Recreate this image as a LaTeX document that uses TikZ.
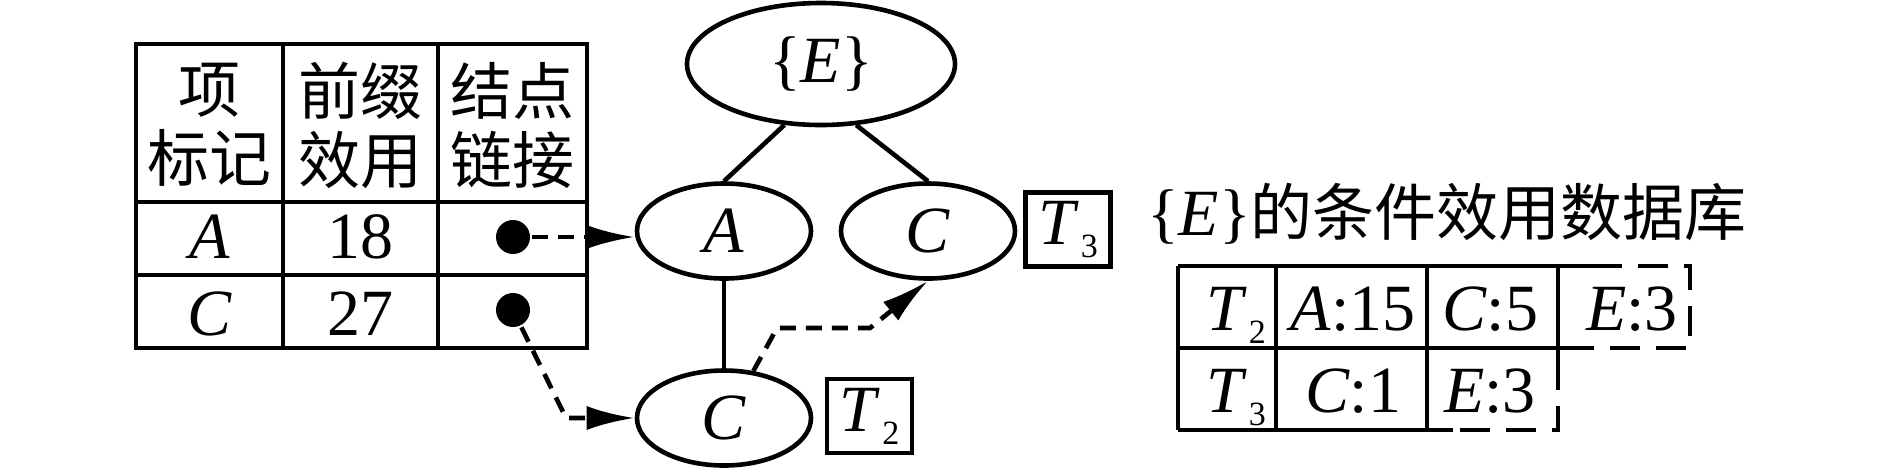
\documentclass[tikz,border=0pt]{standalone}
\usepackage{fontspec}
\setmainfont{Liberation Serif}
\newfontfamily\cjk{Noto Sans CJK SC}
\usetikzlibrary{arrows.meta,shapes.geometric}
\newcommand{\Tsub}[1]{\textit{T}\kern0.03em\raisebox{-0.2em}{\fontsize{17}{17}\selectfont #1}}
\begin{document}
\begin{tikzpicture}[x=0.5pt,y=-0.5pt,
  line width=2.3pt,
  lat/.style={font=\fontsize{33}{36}\selectfont, inner sep=0pt, anchor=base},
  hz/.style={font=\cjk\fontsize{31}{34.5}\selectfont, align=center, inner sep=0pt},
  ell/.style={draw, ellipse, minimum width=87pt, minimum height=47.5pt, inner sep=0pt, font=\fontsize{33}{36}\selectfont},
  tbox/.style={draw, minimum width=42.5pt, minimum height=37pt, inner sep=0pt, font=\fontsize{33}{36}\selectfont},
  dot/.style={circle, fill, minimum size=17pt, inner sep=0pt},
  dsh/.style={dash pattern=on 8pt off 5pt},
  tdsh/.style={dash pattern=on 15pt off 8pt},
  arr/.style={-{Latex[length=24pt,width=12pt]}},
]
\useasboundingbox (0,0) rectangle (1889,468);

% left table
\draw (136,44) rectangle (587,348);
\draw (283,44) -- (283,348);
\draw (438,44) -- (438,348);
\draw (136,202) -- (587,202);
\draw (136,275) -- (587,275);
\node[hz] (h1) at (209.5,125) {项\\标记};
\node[hz] (h2) at (360.5,125) {前缀\\效用};
\node[hz] (h3) at (512.5,125) {结点\\链接};
\node[lat] (rA) at (209.5,258) {\textit{A}};
\node[lat] (uA) at (360.5,258) {18};
\node[lat] (rC) at (209.5,335) {\textit{C}};
\node[lat] (uC) at (360.5,335) {27};
\node[dot] (dA) at (513,237) {};
\node[dot] (dC) at (513,310) {};

% tree
\node[ell, minimum width=134pt, minimum height=61pt] (E) at (821,64) {\{\textit{E}\}};
\node[ell] (A) at (724,231) {\textit{A}};
\node[ell] (C1) at (928,231) {\textit{C}};
\node[ell] (C2) at (724,418) {\textit{C}};
\draw (E.239) -- (A.north);
\draw (E.300) -- (C1.north);
\draw (A.south) -- (C2.north);

\draw[dsh, arr] (dA.east) -- (dA -| A.west);
\coordinate (k1) at (566,418);
\draw[dsh, arr] (dC.-64) -- (k1) -- (C2.west);
\coordinate (k2) at (777,328);
\coordinate (k3) at (870,328);
\draw[dsh, arr] (C2.58) -- (k2) -- (k3) -- (C1.south);

\node[tbox] (T2) at (869.5,416) {\Tsub{2}};
\node[tbox] (T3) at (1068,229.5) {\Tsub{3}};

% title
\node[anchor=base west, inner sep=0pt, font=\fontsize{33}{36}\selectfont] (title) at (1145,235) {\{\textit{E}\}{\cjk\fontsize{31}{34}\selectfont 的条件效用数据库}};

% right table
\draw (1178,266) -- (1592,266);
\draw (1178,348) -- (1585,348);
\draw (1178,430) -- (1453,430);
\draw (1178,266) -- (1178,430);
\draw (1276,266) -- (1276,430);
\draw (1427,266) -- (1427,430);
\draw (1558,266) -- (1558,360);
\draw[tdsh] (1592,266) -- (1690,266) -- (1690,348) -- (1585,348);
\draw[tdsh] (1558,360) -- (1558,430) -- (1453,430);

\node[lat] (t21) at (1236,330) {\Tsub{2}};
\node[lat] (t22) at (1353,330) {\textit{A}:15};
\node[lat] (t23) at (1490,330) {\textit{C}:5};
\node[lat] (t24) at (1632,330) {\textit{E}:3};
\node[lat] (t31) at (1236,412) {\Tsub{3}};
\node[lat] (t32) at (1353,412) {\textit{C}:1};
\node[lat] (t33) at (1490,412) {\textit{E}:3};
\end{tikzpicture}
\end{document}
